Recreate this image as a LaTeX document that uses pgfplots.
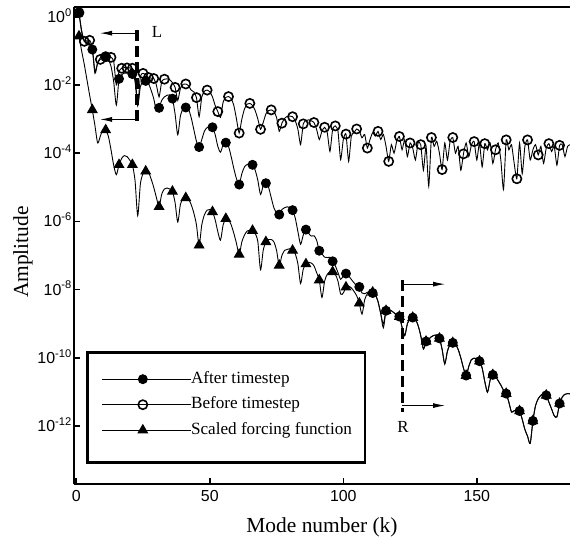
\documentclass[border=0pt]{standalone}
\usepackage{pgfplots}
\pgfplotsset{compat=1.18}
\usepackage{pgfplotstable}
\usepackage{fontspec}
\setmainfont{Liberation Serif}
\setsansfont{Liberation Sans}
\usetikzlibrary{arrows.meta}

% amplitude given as log10(amplitude)
\pgfplotstableread{
k A B C
1 0.12 0.12 -0.57
2 -0.45 -0.40 -1.00
3 -0.72 -0.72 -1.40
4 -0.70 -0.78 -1.85
5 -0.78 -0.69 -2.30
6 -0.96 -0.90 -2.73
7 -1.66 -1.61 -3.20
8 -1.35 -1.35 -3.70
9 -1.20 -1.25 -3.50
10 -1.15 -1.17 -3.30
11 -1.17 -1.17 -3.32
12 -1.25 -1.17 -3.50
13 -1.45 -1.19 -3.90
14 -1.90 -1.30 -4.35
15 -2.59 -2.00 -4.63
16 -1.82 -1.60 -4.34
17 -1.70 -1.51 -4.15
18 -1.65 -1.49 -4.07
19 -1.65 -1.50 -4.10
20 -1.66 -1.50 -4.20
21 -1.68 -1.51 -4.34
22 -1.90 -1.70 -4.80
23 -2.60 -2.60 -5.83
24 -2.05 -1.75 -4.90
25 -1.90 -1.66 -4.60
26 -1.88 -1.70 -4.53
27 -1.95 -1.78 -4.55
28 -2.15 -1.80 -4.75
29 -2.40 -1.81 -5.00
30 -2.75 -2.00 -5.30
31 -2.67 -2.35 -5.57
32 -2.45 -1.90 -5.20
33 -2.35 -1.83 -5.05
34 -2.30 -1.82 -5.02
35 -2.29 -1.85 -5.05
36 -2.40 -1.93 -5.12
37 -2.85 -2.07 -5.45
38 -3.46 -2.45 -6.02
39 -2.90 -2.10 -5.50
40 -2.70 -1.98 -5.33
41 -2.66 -1.97 -5.31
42 -2.70 -2.02 -5.35
43 -2.95 -2.15 -5.50
44 -3.30 -2.20 -5.75
45 -3.65 -2.37 -6.10
46 -3.82 -2.93 -6.70
47 -3.60 -2.35 -6.10
48 -3.35 -2.18 -5.80
49 -3.25 -2.15 -5.67
50 -3.22 -2.20 -5.65
51 -3.24 -2.35 -5.72
52 -3.45 -2.60 -5.95
53 -3.80 -2.78 -6.30
54 -3.97 -2.95 -6.55
55 -3.75 -2.50 -6.10
56 -3.69 -2.36 -5.92
57 -3.80 -2.34 -5.95
58 -4.10 -2.40 -6.10
59 -4.45 -2.60 -6.35
60 -4.75 -3.00 -6.65
61 -4.92 -3.41 -6.97
62 -4.60 -3.00 -6.60
63 -4.40 -2.70 -6.40
64 -4.33 -2.56 -6.28
65 -4.32 -2.54 -6.26
66 -4.34 -2.60 -6.27
67 -4.50 -2.75 -6.35
68 -4.80 -3.00 -6.60
69 -5.21 -3.30 -7.42
70 -4.95 -3.10 -6.85
71 -4.88 -2.85 -6.60
72 -5.00 -2.75 -6.53
73 -5.30 -2.73 -6.53
74 -5.60 -2.78 -6.60
75 -5.75 -2.95 -6.85
76 -5.80 -3.36 -7.29
77 -5.65 -3.12 -7.00
78 -5.60 -2.98 -6.85
79 -5.57 -2.92 -6.82
80 -5.60 -2.91 -6.80
81 -5.67 -2.93 -6.85
82 -5.90 -3.05 -6.95
83 -6.30 -3.30 -7.25
84 -6.67 -3.75 -7.82
85 -6.40 -3.14 -7.40
86 -6.24 -3.05 -7.25
87 -6.35 -3.02 -7.20
88 -6.43 -3.05 -7.22
89 -6.42 -3.10 -7.30
90 -6.55 -3.30 -7.50
91 -6.86 -3.60 -7.72
92 -6.95 -3.35 -8.23
93 -7.05 -3.24 -7.75
94 -7.06 -3.40 -7.55
95 -7.05 -3.95 -7.48
96 -7.17 -3.30 -7.48
97 -7.30 -3.20 -7.55
98 -7.50 -3.35 -7.75
99 -7.70 -4.19 -8.13
100 -7.60 -3.60 -8.10
101 -7.53 -3.44 -7.93
102 -7.60 -4.24 -7.90
103 -7.70 -3.50 -7.95
104 -7.80 -3.40 -8.05
105 -7.88 -3.29 -8.18
106 -7.92 -3.35 -8.40
107 -8.10 -3.55 -8.72
108 -8.12 -3.45 -8.30
109 -8.08 -3.85 -8.12
110 -8.05 -3.60 -8.07
111 -8.10 -3.40 -8.08
112 -8.15 -3.50 -8.15
113 -8.35 -3.36 -8.35
114 -8.70 -3.60 -8.70
115 -9.00 -3.45 -9.12
116 -8.62 -3.80 -8.62
117 -8.60 -4.24 -8.60
118 -8.62 -3.75 -8.62
119 -8.68 -4.00 -8.68
120 -8.75 -3.65 -8.75
121 -8.79 -3.51 -8.79
122 -9.10 -3.90 -9.10
123 -9.35 -3.60 -9.35
124 -9.00 -4.10 -9.00
125 -8.85 -3.70 -8.85
126 -8.82 -3.85 -8.82
127 -8.87 -4.20 -8.87
128 -9.05 -3.70 -9.05
129 -9.35 -3.75 -9.35
130 -9.74 -4.50 -9.74
131 -9.52 -3.80 -9.52
132 -9.45 -4.97 -9.45
133 -9.38 -3.54 -9.38
134 -9.34 -3.80 -9.34
135 -9.33 -3.65 -9.33
136 -9.43 -4.00 -9.43
137 -9.75 -4.48 -9.75
138 -10.18 -3.70 -10.18
139 -9.80 -4.20 -9.80
140 -9.60 -3.65 -9.60
141 -9.56 -3.54 -9.56
142 -9.60 -4.00 -9.60
143 -9.75 -3.80 -9.75
144 -10.00 -4.50 -10.00
145 -10.30 -4.02 -10.30
146 -10.52 -3.70 -10.52
147 -10.25 -4.10 -10.25
148 -10.05 -3.75 -10.05
149 -10.01 -3.66 -10.01
150 -10.03 -4.20 -10.03
151 -10.10 -3.70 -10.10
152 -10.30 -4.40 -10.30
153 -10.70 -3.72 -10.70
154 -11.01 -3.90 -11.01
155 -10.65 -3.70 -10.65
156 -10.50 -4.30 -10.50
157 -10.55 -3.90 -10.55
158 -10.67 -3.70 -10.67
159 -10.80 -4.20 -10.80
160 -10.95 -5.07 -10.95
161 -11.05 -3.61 -11.05
162 -11.30 -3.90 -11.30
163 -11.59 -3.75 -11.59
164 -11.55 -4.30 -11.55
165 -11.55 -4.75 -11.55
166 -11.56 -3.70 -11.56
167 -11.80 -4.60 -11.80
168 -12.10 -3.80 -12.10
169 -12.30 -3.61 -12.30
170 -12.51 -4.20 -12.51
171 -11.85 -3.90 -11.85
172 -11.40 -3.75 -11.40
173 -11.20 -4.05 -11.20
174 -11.10 -3.80 -11.10
175 -11.05 -4.30 -11.05
176 -11.10 -3.85 -11.10
177 -11.30 -3.72 -11.30
178 -11.50 -3.95 -11.50
179 -11.70 -3.80 -11.70
180 -11.73 -4.35 -11.73
181 -11.34 -3.77 -11.34
182 -11.15 -3.75 -11.15
183 -11.07 -4.10 -11.07
184 -11.05 -3.80 -11.05
185 -11.06 -3.75 -11.06
}\modes

\begin{document}
\begin{tikzpicture}
\begin{axis}[
  scale only axis, width=496bp, height=477bp,
  xmin=-0.86, xmax=184.9, ymin=-13.70, ymax=0.287,
  axis x line*=bottom, axis y line*=left,
  axis line style={line width=2.5bp, black},
  tick align=inside, major tick length=6bp,
  every tick/.style={line width=1.6bp, black},
  minor tick num=0,
  xtick={0,50,100,150}, xticklabels={0,50,100,150},
  ytick={0,-2,-4,-6,-8,-10,-12},
  yticklabels={{10\textsuperscript{0}},{10\textsuperscript{-2}},{10\textsuperscript{-4}},{10\textsuperscript{-6}},{10\textsuperscript{-8}},{10\textsuperscript{-10}},{10\textsuperscript{-12}}},
  tick label style={font=\sffamily\fontsize{16}{19}\selectfont},
  yticklabel style={anchor=base east, yshift=-5.5bp, inner xsep=2bp},
  xticklabel style={yshift=-2.4bp},
  xlabel={Mode number (k)},
  ylabel={Amplitude},
  label style={font=\fontsize{21.5}{24}\selectfont},
  xlabel style={at={(axis description cs:0.5,0)}, anchor=base, yshift=-48bp},
  ylabel style={at={(axis description cs:-0.0927,0.486)}, anchor=base},
  legend style={draw=none, fill=none, at={(rel axis cs:0.0558,0.2369)}, anchor=north west,
    inner sep=0pt, row sep=9.5bp, font=\fontsize{17.2}{20}\selectfont,
    nodes={inner sep=0pt, text height=12bp, text depth=4bp}},
  legend cell align=left,
  legend image code/.code={
    \draw[#1,mark=none] (0bp,0bp) -- (81bp,0bp);
    \draw[#1,only marks] plot coordinates {(40.5bp,0bp)};
    \path (0bp,0bp) -- (88.3bp,0bp);},
  every axis plot/.append style={line width=0.9bp, black},
]
\addplot[smooth, tension=0.45, mark=*, mark size=4.5bp, mark repeat=5, mark phase=1]
  table[x=k, y=A] {\modes};
\addlegendentry{After timestep}
\addplot[smooth, tension=0.35, mark=o, mark size=4.6bp,
  mark options={line width=1.6bp, fill=none},
  mark indices={1,3,5,9,11,13,17,19,21,25,27,29,33,37,41,45,49,53,57,61,65,69,73,77,81,85,89,93,97,101,105,109,113,117,121,125,129,133,137,141,145,149,153,157,161,165,169,173,177,181}]
  table[x=k, y=B] {\modes};
\addlegendentry{Before timestep}
\addplot[smooth, tension=0.45, mark=triangle*, mark size=5.5bp, mark repeat=5, mark phase=1]
  table[x=k, y=C] {\modes};
\addlegendentry{Scaled forcing function}

% annotations L and R
\draw[line width=3.5bp, dash pattern=on 11bp off 5bp] (axis cs:22.7,-0.39) -- (axis cs:22.7,-3.08);
\draw[line width=0.9bp, -{Latex[length=12bp,width=5bp]}] (axis cs:22.7,-0.48) -- (axis cs:8.9,-0.48);
\draw[line width=0.9bp, -{Latex[length=12bp,width=5bp]}] (axis cs:22.7,-3.01) -- (axis cs:8.9,-3.01);
\node[font=\fontsize{17}{20}\selectfont] at (axis cs:30.2,-0.45) {L};
\draw[line width=3.5bp, dash pattern=on 11bp off 5bp] (axis cs:122.1,-7.72) -- (axis cs:122.1,-11.58);
\draw[line width=0.9bp, -{Latex[length=12bp,width=5bp]}] (axis cs:122.1,-7.84) -- (axis cs:138.1,-7.84);
\draw[line width=0.9bp, -{Latex[length=12bp,width=5bp]}] (axis cs:122.1,-11.40) -- (axis cs:138.1,-11.40);
\node[font=\fontsize{17}{20}\selectfont] at (axis cs:122.4,-12.04) {R};

\coordinate (lgA) at (rel axis cs:0.0276,0.2761);
\coordinate (lgB) at (rel axis cs:0.5867,0.0447);
\end{axis}
\draw[line width=2.4bp] (lgA) rectangle (lgB);
\draw[line width=2.5bp] (current axis.north west) -- (current axis.north east);
\pgfresetboundingbox
\path ([shift={(-74bp,-55bp)}]current axis.south west) rectangle ([shift={(0bp,7bp)}]current axis.north east);
\end{tikzpicture}
\end{document}
